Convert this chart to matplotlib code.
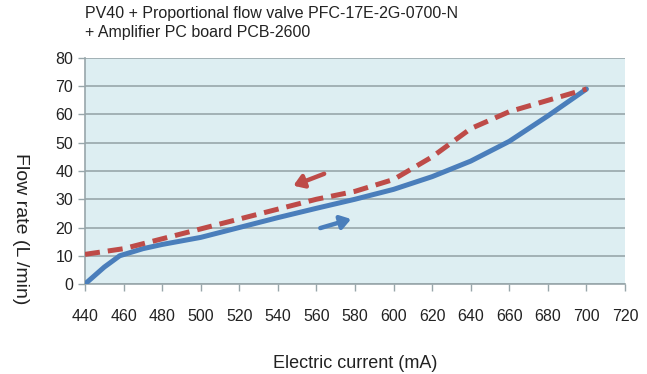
import matplotlib.pyplot as plt

plt.rcParams['font.family'] = ['Liberation Sans', 'DejaVu Sans']

# current rising (solid blue)
up_ma = [440, 450, 458, 470, 480, 500, 520, 540, 560, 580, 600, 620, 640, 660, 680, 700]
up_flow = [0, 6, 10, 12.5, 14, 16.5, 20, 23.5, 26.8, 30, 33.5, 38, 43.5, 50.5, 59.5, 69]

# current falling (dashed red)
down_ma = [440, 460, 480, 500, 520, 540, 560, 580, 600, 620, 640, 660, 680, 700]
down_flow = [10.5, 12.5, 16, 19.5, 23, 26.5, 30, 32.8, 37, 45, 55, 61, 65, 69]

x_ticks = list(range(440, 721, 20))
y_ticks = list(range(0, 81, 10))

blue = '#4A7EBB'
red = '#BE4B48'
grid_col = '#98A6AA'

fig = plt.figure(figsize=(6.47, 3.74), dpi=100)
ax = fig.add_axes([0.1314, 0.2406, 0.8346, 0.6044])
ax.set_facecolor('#DDEEF2')

ax.plot(up_ma, up_flow, color=blue, lw=3.6, solid_capstyle='round', zorder=3)
ax.plot(down_ma, down_flow, color=red, lw=3.6, dashes=(3.0, 1.6), zorder=4)

# direction arrows
ax.annotate('', xy=(548, 34.8), xytext=(564, 39.0),
            arrowprops=dict(arrowstyle='-|>,head_length=0.6,head_width=0.4',
                            color=red, lw=3.2, shrinkA=0, shrinkB=0))
ax.annotate('', xy=(578, 23.0), xytext=(562, 19.8),
            arrowprops=dict(arrowstyle='-|>,head_length=0.6,head_width=0.4',
                            color=blue, lw=3.2, shrinkA=0, shrinkB=0))

ax.set_xlim(440, 720)
ax.set_ylim(0, 80)
ax.set_xticks(x_ticks)
ax.set_yticks(y_ticks)
ax.yaxis.grid(True, color=grid_col, lw=1.2)
ax.set_axisbelow(True)

for s in ['top', 'right']:
    ax.spines[s].set_visible(False)
for s in ['left', 'bottom']:
    ax.spines[s].set_color(grid_col)
    ax.spines[s].set_linewidth(1.2)

ax.tick_params(axis='both', colors=grid_col, length=5, width=1)
ax.tick_params(axis='both', labelcolor='#222222', labelsize=11.5)
ax.tick_params(axis='x', pad=13)

ax.set_xlabel('Electric current (mA)', fontsize=13, color='#222222', labelpad=22)
ax.text(-0.12, 0.245, 'Flow rate (L /min)', rotation=270, transform=ax.transAxes,
        ha='center', va='center', fontsize=14, color='#222222')

fig.text(0.1314, 0.985, 'PV40 + Proportional flow valve PFC-17E-2G-0700-N\n+ Amplifier PC board PCB-2600',
         ha='left', va='top', fontsize=11.5, color='#222222', linespacing=1.4)

fig.savefig('out.png', dpi=100)
